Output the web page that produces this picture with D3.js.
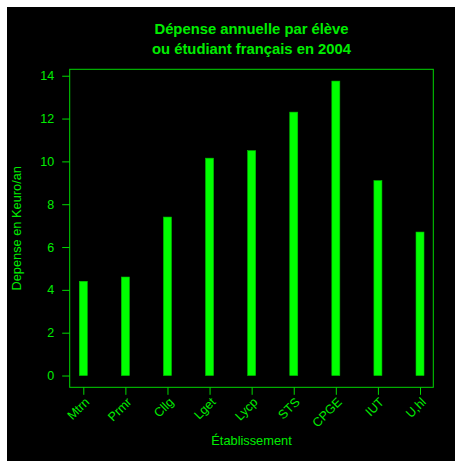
<!DOCTYPE html>
<html><head><meta charset="utf-8">
<script src="https://cdn.jsdelivr.net/npm/d3@7"></script>
<style>html,body{margin:0;padding:0;background:#fff;}svg{display:block;}</style>
</head><body>
<script>
const categories = ["Mtrn","Prmr","Cllg","Lget","Lycp","STS","CPGE","IUT","U,hl"];
const values = [4.4, 4.6, 7.4, 10.15, 10.5, 12.3, 13.75, 9.1, 6.7];
const yTicks = [0, 2, 4, 6, 8, 10, 12, 14];
const titleLines = ["Dépense annuelle par élève", "ou étudiant français en 2004"];
const xTitle = "Établissement";
const yTitle = "Depense en Keuro/an";

const W = 455, H = 461;
const green = "#00ff00", lineCol = "#00d800", textCol = "#00ee00";
const font = "Liberation Sans, Arial, sans-serif";
const box = {l: 69.7, r: 433.3, t: 69.3, b: 387.3};

const svg = d3.select("body").append("svg").attr("width", W).attr("height", H);
svg.append("rect").attr("x", 7).attr("y", 7).attr("width", W - 7).attr("height", H - 7).attr("fill", "#000");

const M = d3.max(values);
const y = d3.scaleLinear().domain([-0.04 * M, 1.04 * M]).range([box.b, box.t]);
const x = d3.scalePoint().domain(categories).range([83.3, 420]);
const barW = 8;

// bars
svg.append("g").selectAll("rect").data(values).join("rect")
  .attr("x", (d, i) => x(categories[i]) - barW / 2)
  .attr("width", barW)
  .attr("y", d => y(d))
  .attr("height", d => y(0) - y(d))
  .attr("fill", green)
  .attr("stroke", "#00c000").attr("stroke-width", 0.6);

// frame
svg.append("rect").attr("x", box.l).attr("y", box.t)
  .attr("width", box.r - box.l).attr("height", box.b - box.t)
  .attr("fill", "none").attr("stroke", lineCol).attr("stroke-width", 1);

// y axis
const yAxis = d3.axisLeft(y).tickValues(yTicks).tickSize(7.5).tickPadding(8).tickFormat(d3.format("d"));
const gy = svg.append("g").attr("transform", `translate(${box.l},0)`).call(yAxis);
gy.select(".domain").remove();
gy.selectAll("line").attr("stroke", lineCol);
gy.selectAll("text").attr("fill", textCol).attr("font-family", font).attr("font-size", 12.5);

// x axis
const xAxis = d3.axisBottom(x).tickSize(7.5).tickFormat("");
const gx = svg.append("g").attr("transform", `translate(0,${box.b})`).call(xAxis);
gx.select(".domain").remove();
gx.selectAll("line").attr("stroke", lineCol);

svg.append("g").selectAll("text").data(categories).join("text")
  .attr("transform", d => `translate(${x(d) + 4},${400}) rotate(-45)`)
  .attr("text-anchor", "end")
  .attr("dominant-baseline", "central")
  .attr("fill", textCol).attr("font-family", font).attr("font-size", 12.5)
  .text(d => d);

// titles
const cx = (box.l + box.r) / 2;
svg.append("g").selectAll("text").data(titleLines).join("text")
  .attr("x", cx).attr("y", (d, i) => 34 + i * 19.5)
  .attr("text-anchor", "middle")
  .attr("fill", textCol).attr("font-family", font).attr("font-size", 14.8).attr("font-weight", "bold")
  .text(d => d);

svg.append("text").attr("x", cx).attr("y", 445)
  .attr("text-anchor", "middle").attr("fill", textCol)
  .attr("font-family", font).attr("font-size", 12.8).text(xTitle);

svg.append("text").attr("transform", `translate(21,${(box.t + box.b) / 2}) rotate(-90)`)
  .attr("text-anchor", "middle").attr("fill", textCol)
  .attr("font-family", font).attr("font-size", 12.8).text(yTitle);
</script>
</body></html>
